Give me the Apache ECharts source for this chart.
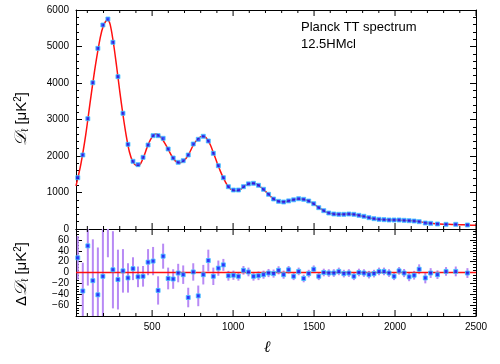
<!DOCTYPE html>
<html><head><meta charset="utf-8">
<script src="https://cdn.jsdelivr.net/npm/echarts@6/dist/echarts.min.js"></script>
<style>html,body{margin:0;padding:0;background:#fff}#c{width:500px;height:364px}</style>
</head><body><div id="c"></div>
<script>
// ---- data ----
const binL = [41,72,103,134,165,196,227,258,289,320,351,382,413,444,475,506,537,568,599,630,661,692,723,754,785,816,847,878,909,940,971,1002,1033,1064,1095,1126,1157,1188,1219,1250,1281,1312,1343,1374,1405,1436,1467,1498,1529,1560,1591,1622,1653,1684,1715,1746,1777,1808,1839,1870,1901,1932,1963,1994,2025,2056,2087,2118,2149,2187,2220,2262,2315,2375,2447];
const binD = [1405,2027,3022,4008,4950,5589,5753,5115,4173,3170,2320,1855,1762,1964,2301,2557,2557,2485,2192,1945,1827,1871,2027,2329,2457,2540,2411,2074,1734,1405,1159,1068,1068,1159,1237,1252,1197,1088,951,822,758,740,770,800,830,813,767,693,584,502,438,411,402,402,411,402,375,348,310,283,265,256,247,247,247,238,228,219,201,164,155,137,128,128,110];
const resid = [27,-34,49,-15,-41,-7,118,5,-13,3,-10,7,-8,-7,19,21,-33,30,-11,-12,-1,-4,-46,1,-43,-4,22,-7,8,14,-6,-5,-7,4,1,-7,-6,-4,-1,-2,4,-4,5,-7,2,-11,-2,6,-7,0,-1,-1,2,-2,-1,-7,0,-1,-4,-2,2,2,-1,-7,3,-1,-8,-5,6,-10,-1,-4,2,2,-1];
const residErr = [40,52,73,76,87,95,90,71,55,40,27,21,19,19,24,26,26,23,20,18,17,17,18,16,19,18,20,16,14,11,9,8.5,8,8,8,8,8,7.5,7.5,7.5,7.5,7.5,7,7,7,7,7,7,7,7,7,7,7,7,7,7,7,7,7,7,7,7,7,7,7,7.5,8,8,9,10,9,8,8,9,9];
const curveL = [30,60,90,120,150,180,200,215,225,240,260,280,300,320,340,360,380,400,415,430,450,470,490,510,525,540,560,580,600,620,640,660,675,690,710,730,750,770,790,810,825,840,860,880,900,920,940,960,980,1000,1020,1040,1060,1080,1100,1120,1140,1160,1180,1200,1220,1240,1260,1280,1300,1320,1340,1360,1380,1400,1420,1440,1460,1480,1500,1520,1540,1560,1580,1600,1620,1640,1660,1680,1700,1720,1740,1760,1780,1800,1820,1840,1860,1880,1900,1920,1940,1960,1980,2000,2040,2080,2120,2160,2200,2250,2300,2350,2400,2450,2500];
const curveD = [1180,1780,2580,3560,4480,5250,5580,5700,5720,5620,5130,4480,3780,3130,2560,2110,1850,1740,1730,1800,2000,2250,2450,2570,2600,2570,2480,2340,2180,2010,1880,1820,1815,1850,1940,2080,2260,2400,2500,2540,2530,2460,2300,2070,1830,1600,1400,1230,1110,1060,1050,1070,1130,1200,1240,1255,1240,1190,1110,1030,950,860,800,760,745,745,765,790,810,825,825,810,780,735,680,615,555,500,455,428,412,405,403,404,408,408,402,390,372,352,332,310,290,275,265,258,254,250,248,246,242,232,218,195,165,145,132,126,118,110,100];
const zeroL = [30, 2500];
const zeroV = [0, 0];
const xMajor = [500,1000,1500,2000,2500];
const xMinor = [100,200,300,400,600,700,800,900,1100,1200,1300,1400,1600,1700,1800,1900,2100,2200,2300,2400];
const labelLines = ['Planck TT spectrum', '12.5HMcl'];

// ---- chart ----
const chart = echarts.init(document.getElementById('c'), null, {renderer:'canvas'});
const FONT = 'Liberation Sans';
const black = '#000';
const plainFmt = v => String(v).replace('-', '\u2212');
function xAx(grid, pos, showLabel){
  return {
    type:'value', gridIndex:grid, position:pos, min:30, max:2500,
    axisLine:{show:true, onZero:false, lineStyle:{color:black,width:1}},
    axisTick:{show:false},
    axisLabel:{show:showLabel, customValues:xMajor, color:black, fontSize:10, fontFamily:FONT, margin:6, formatter:plainFmt},
    splitLine:{show:false}, minorTick:{show:false}
  };
}
function yAx(grid, pos, mn, mx, iv, split, showLabel, fmt){
  return {
    type:'value', gridIndex:grid, position:pos, min:mn, max:mx, interval:iv,
    axisLine:{show:true, onZero:false, lineStyle:{color:black,width:1}},
    axisTick:{show:true, inside:true, length:6, lineStyle:{color:black,width:1}},
    minorTick:{show:true, splitNumber:split, length:3, lineStyle:{color:black,width:1}},
    axisLabel:{show:showLabel, color:black, fontSize:10, fontFamily:FONT, margin:7, formatter:fmt || plainFmt},
    splitLine:{show:false}, minorSplitLine:{show:false}
  };
}
const residFmt = v => (v===80||v===-80) ? '' : plainFmt(v);
const pointStyle = {color:'#0a1cff', borderColor:'#45c8ff', borderWidth:1};

// x-axis tick marks (top and bottom of each panel), positioned through the axis scale
function tickSeries(xi, yi, yRef){
  const ticks = xMajor.map(v=>[v,yRef,6]).concat(xMinor.map(v=>[v,yRef,3]));
  return {type:'custom', xAxisIndex:xi, yAxisIndex:yi, z:5, silent:true, data:ticks,
    renderItem:(params, api)=>{
      const cs = params.coordSys;
      const px = api.coord([api.value(0), api.value(1)])[0];
      const len = api.value(2);
      return {type:'group', children:[
        {type:'line', shape:{x1:px, y1:cs.y+cs.height, x2:px, y2:cs.y+cs.height-len}, style:{stroke:black, lineWidth:1}},
        {type:'line', shape:{x1:px, y1:cs.y, x2:px, y2:cs.y+len}, style:{stroke:black, lineWidth:1}}
      ]};
    }};
}

chart.setOption({
  animation:false,
  backgroundColor:'#fff',
  grid:[
    {left:76, right:24, top:10, height:219},
    {left:76, right:24, top:229, height:87}
  ],
  xAxis:[
    xAx(0,'bottom',false), xAx(0,'top',false),
    xAx(1,'bottom',true), xAx(1,'top',false)
  ],
  yAxis:[
    yAx(0,'left',0,6000,1000,5,true),
    yAx(0,'right',0,6000,1000,5,false),
    yAx(1,'left',-80,80,20,4,true,residFmt),
    yAx(1,'right',-80,80,20,4,false)
  ],
  series:[
    {type:'line', xAxisIndex:0, yAxisIndex:0, data:curveL.map((l,i)=>[l,curveD[i]]),
     smooth:0.3, showSymbol:false, lineStyle:{color:'#ff1010', width:1.5}, z:2},
    {type:'scatter', xAxisIndex:0, yAxisIndex:0, data:binL.map((l,i)=>[l,binD[i]]),
     symbol:'rect', symbolSize:4, itemStyle:pointStyle, z:3},
    {type:'custom', xAxisIndex:2, yAxisIndex:2, clip:true, z:1,
     data:binL.map((l,i)=>[l,resid[i],residErr[i]]),
     renderItem:(params, api)=>{
       const l=api.value(0), v=api.value(1), e=api.value(2);
       const p1=api.coord([l,v-e]), p2=api.coord([l,v+e]);
       return {type:'line', shape:{x1:p1[0],y1:p1[1],x2:p2[0],y2:p2[1]},
               style:{stroke:'#b88af5', lineWidth:2}};
     }},
    {type:'line', xAxisIndex:2, yAxisIndex:2, data:zeroL.map((l,i)=>[l,zeroV[i]]),
     showSymbol:false, lineStyle:{color:'#ff1010', width:1.5}, z:2},
    {type:'scatter', xAxisIndex:2, yAxisIndex:2, data:binL.map((l,i)=>[l,resid[i]]),
     symbol:'rect', symbolSize:4, itemStyle:pointStyle, z:3, clip:true},
    tickSeries(0, 0, 0),
    tickSeries(2, 2, 0)
  ],
  graphic:[
    {type:'text', left:301, top:21, style:{text:labelLines[0], fill:black, font:'13px "Liberation Sans"'}},
    {type:'text', left:301, top:38, style:{text:labelLines[1], fill:black, font:'13px "Liberation Sans"'}},
    {type:'text', x:22, y:119, rotation:Math.PI/2,
     style:{text:'{d|\uD835\uDC9F}{s|\u2113} [\u03BCK{p|2}]', fill:black, font:'15px "Liberation Sans"',
       align:'center', verticalAlign:'middle',
       rich:{d:{fontSize:17, fontFamily:'DejaVu Serif', fontStyle:'italic'}, s:{fontSize:10, verticalAlign:'bottom', padding:[6,0,0,0]}, p:{fontSize:10, verticalAlign:'top', padding:[0,0,6,0]}}}},
    {type:'text', x:22, y:274, rotation:Math.PI/2,
     style:{text:'\u0394{d|\uD835\uDC9F}{s|\u2113} [\u03BCK{p|2}]', fill:black, font:'15px "Liberation Sans"',
       align:'center', verticalAlign:'middle',
       rich:{d:{fontSize:17, fontFamily:'DejaVu Serif', fontStyle:'italic'}, s:{fontSize:10, verticalAlign:'bottom', padding:[6,0,0,0]}, p:{fontSize:10, verticalAlign:'top', padding:[0,0,6,0]}}}},
    {type:'text', x:267, y:348, style:{text:'\u2113', fill:black, font:'italic 16px "DejaVu Serif"', align:'center', verticalAlign:'middle'}}
  ]
});
</script>
</body></html>
